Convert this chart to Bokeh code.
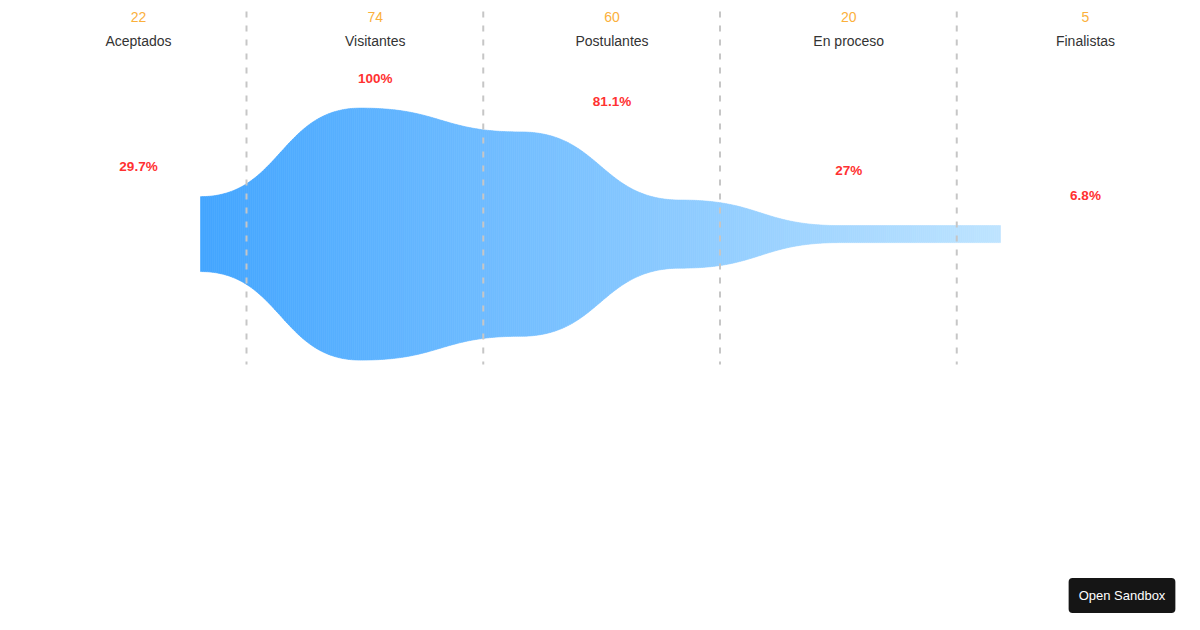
import numpy as np
from bokeh.core.properties import value
from bokeh.embed import file_html
from bokeh.models import ColumnDataSource, Label, Range1d
from bokeh.plotting import figure
from bokeh.resources import INLINE

# funnel data
stages = ["Aceptados", "Visitantes", "Postulantes", "En proceso", "Finalistas"]
counts = [22, 74, 60, 20, 5]

FONT = "Liberation Sans"

# screen pixels used as data units
W, H = 1184, 614
p = figure(width=W, height=H, output_backend="svg", toolbar_location=None,
           x_range=Range1d(0, W), y_range=Range1d(H, 0),
           min_border=0, outline_line_color=None)
p.axis.visible = False
p.grid.visible = False

# shape: cubic bezier between stage points, last value repeated (flat tail)
left, right, mid_y, max_half = 200, 1000, 233.6, 126
vmax = max(counts)
pts = counts + [counts[-1]]
seg_w = (right - left) / (len(pts) - 1)
cx, cv = [], []
t = np.linspace(0, 1, 200)
for i in range(len(pts) - 1):
    x0 = left + i * seg_w
    fx = 1.5 * t * (1 - t) + t ** 3
    fy = 3 * t ** 2 - 2 * t ** 3
    cx.append(x0 + seg_w * fx)
    cv.append(pts[i] + (pts[i + 1] - pts[i]) * fy)
cx = np.concatenate(cx)
cv = np.concatenate(cv)

n_slices = 400
edges = np.linspace(left, right, n_slices + 1)
half = np.interp(edges, cx, cv) / vmax * max_half
c0 = np.array([66, 165, 255])
c1 = np.array([190, 228, 255])
xs, ys, cols = [], [], []
for k in range(n_slices):
    a, b = edges[k], edges[k + 1]
    xs.append([a, b, b, a])
    ys.append([mid_y - half[k], mid_y - half[k + 1], mid_y + half[k + 1], mid_y + half[k]])
    f = (k + 0.5) / n_slices
    r, g, bb = (c0 + (c1 - c0) * f).astype(int)
    cols.append("#%02x%02x%02x" % (r, g, bb))
p.patches(xs="xs", ys="ys", fill_color="color", line_color="color", line_width=0.6,
          source=ColumnDataSource(dict(xs=xs, ys=ys, color=cols)))

# dashed separators
col_w = 236.75
sep_x = [246 + i * col_w for i in range(len(stages) - 1)]
p.segment(x0=sep_x, y0=[11] * len(sep_x), x1=sep_x, y1=[364] * len(sep_x),
          line_color="#c6c6c6", line_width=2, line_dash="6 8")

# labels
lab_x = [138 + i * col_w for i in range(len(stages))]
pct = [round(c / vmax * 100, 1) for c in counts]
pct_txt = [("%g" % v) + "%" for v in pct]
pct_y = [mid_y - c / vmax * max_half - 30 for c in counts]
src = ColumnDataSource(dict(x=lab_x, stage=stages, num=[str(c) for c in counts],
                            pct=pct_txt, py=pct_y))
p.text(x="x", y=16, text="num", source=src, text_align="center", text_baseline="middle",
       text_font=value(FONT), text_font_size="14px", text_color="#fbb03b")
p.text(x="x", y=40, text="stage", source=src, text_align="center", text_baseline="middle",
       text_font=value(FONT), text_font_size="14px", text_color="#333333")
p.text(x="x", y="py", text="pct", source=src, text_align="center", text_baseline="middle",
       text_font=value(FONT), text_font_size="13.5px", text_font_style="bold",
       text_color="#ff3131")

# sandbox button
p.add_layout(Label(x=1121.5, y=595, text="Open Sandbox", text_align="center",
                   text_baseline="middle", text_font=FONT, text_font_size="13px",
                   text_color="#ffffff", background_fill_color="#151515",
                   padding=10, border_radius=4))

open("out.html", "w").write(file_html(p, INLINE))
